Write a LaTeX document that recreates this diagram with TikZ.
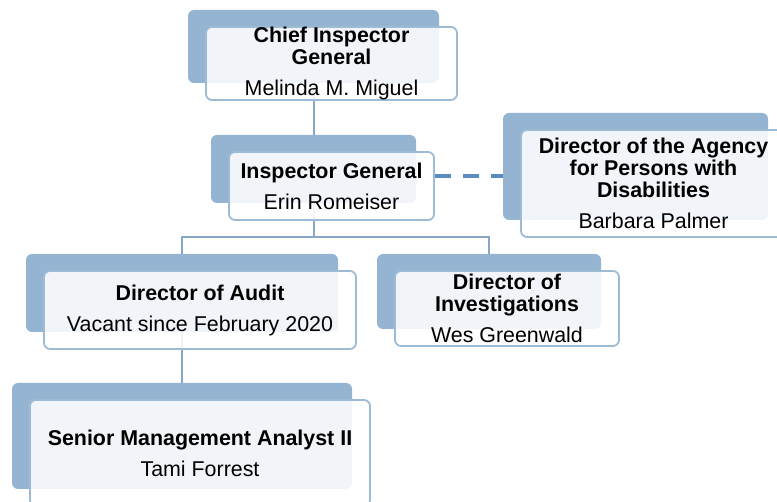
\documentclass[tikz,border=0pt]{standalone}
\usepackage{fontspec}
\setmainfont{Liberation Sans}
\usepackage{tikz}
\usetikzlibrary{backgrounds}
\definecolor{cBack}{RGB}{148,180,210}
\definecolor{cEdge}{RGB}{158,187,214}
\definecolor{cLine}{RGB}{136,166,200}
\definecolor{cDash}{RGB}{88,141,190}
\tikzset{
	backbox/.style ={rectangle, rounded corners=6pt, fill=cBack, inner sep=0pt},
	frontbox/.style={rectangle, rounded corners=6pt, draw=cEdge, line width=1.8pt, fill=white, fill opacity=0.88, text opacity=1, inner sep=0pt, align=center, execute at begin node={\rule{0pt}{19pt}}},
	% connectors of the chart
	orgline/.style ={draw=cLine, line width=2pt},
	dashlink/.style={draw=cDash, line width=4.5pt, dash pattern=on 16pt off 12pt},
}

\begin{document}
\begin{tikzpicture}[x=1pt, y=-1pt, font=\fontsize{21.4}{22}\selectfont]
	\clip (0,0) rectangle (777,502);
	% back plates, front cards sit 18/17 down-right
	\node[backbox, minimum width=251, minimum height=73] (chiefB) at (313.5,46.5) {};
	\node[frontbox, minimum width=251, minimum height=73] (chief) at ([shift={(18,17)}]chiefB) {\textbf{Chief Inspector}\\\textbf{General}\\[9pt]Melinda M. Miguel};
	\node[backbox, minimum width=205, minimum height=68] (igB) at (313.5,169) {};
	\node[frontbox, minimum width=205, minimum height=68] (ig) at ([shift={(18,17)}]igB) {\textbf{Inspector General}\\[9pt]Erin Romeiser};
	\node[backbox, minimum width=265, minimum height=107] (agB) at (635.5,166.5) {};
	\node[frontbox, minimum width=265, minimum height=107] (ag) at ([shift={(18,17)}]agB) {\textbf{Director of the Agency}\\\textbf{for Persons with}\\\textbf{Disabilities}\\[9pt]Barbara Palmer};
	\node[backbox, minimum width=312, minimum height=78] (audB) at (182,293) {};
	\node[frontbox, minimum width=312, minimum height=78] (aud) at ([shift={(18,17)}]audB) {\textbf{Director of Audit}\\[9pt]Vacant since February 2020};
	\node[backbox, minimum width=224, minimum height=75] (invB) at (489,291.5) {};
	\node[frontbox, minimum width=224, minimum height=75] (inv) at ([shift={(18,17)}]invB) {\textbf{Director of}\\\textbf{Investigations}\\[9pt]Wes Greenwald};
	\node[backbox, minimum width=340, minimum height=106] (senB) at (182,436) {};
	\node[frontbox, minimum width=340, minimum height=106] (sen) at ([shift={(18,17)}]senB) {\textbf{Senior Management Analyst II}\\[9pt]Tami Forrest};

	\coordinate (split) at (313.5,237);
	\coordinate (dashL) at ([yshift=10pt]ig.east);
	\begin{scope}[on background layer]
		\draw[orgline] (chiefB) -- (igB);
		\draw[orgline] (igB) -- (split);
		\draw[orgline] (audB) |- (split) -| (invB);
		\draw[orgline] (audB) -- (senB);
		\draw[dashlink] (dashL) -- (dashL -| agB.west);
	\end{scope}
\end{tikzpicture}
\end{document}
